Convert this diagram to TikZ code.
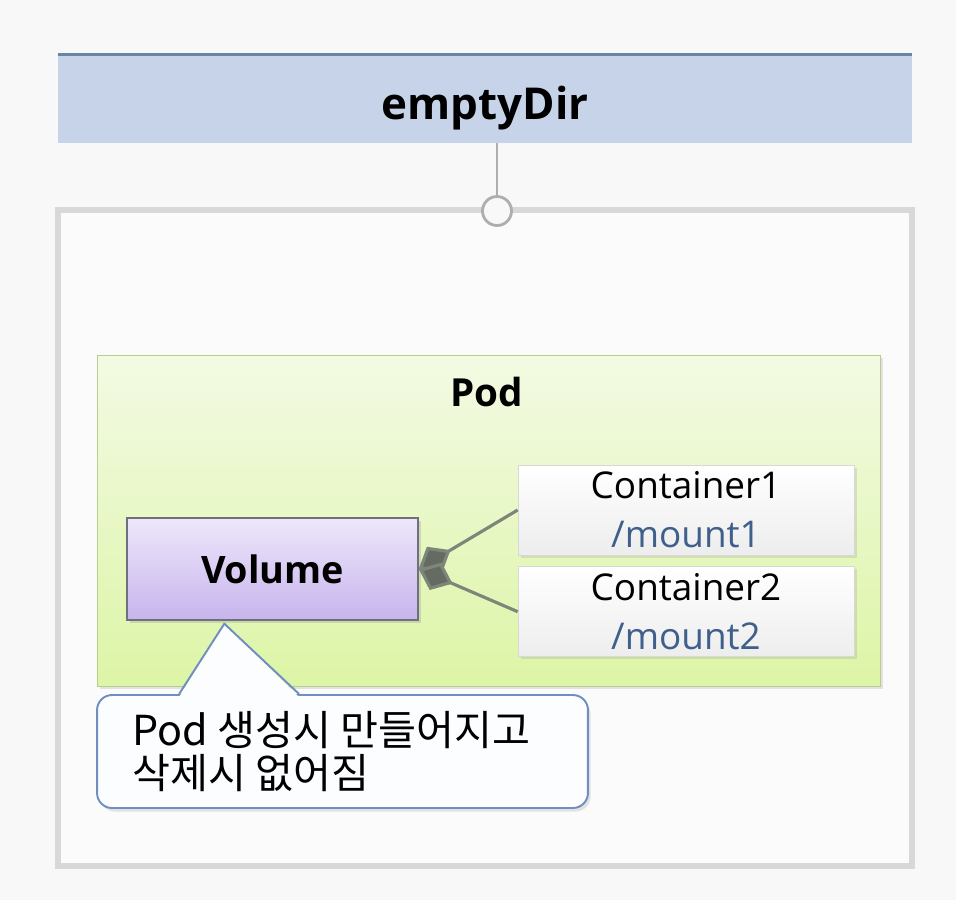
\documentclass[tikz,border=0pt]{standalone}
\usepackage{fontspec}
\setmainfont{Open Sans}
\newfontfamily\krfont{Noto Sans CJK KR}
\usepackage{tikz}
\usetikzlibrary{positioning, calc, arrows.meta, shadows}
\usepackage{xcolor}
\definecolor{pagebg}{HTML}{F8F8F8}
\definecolor{headfill}{HTML}{C6D3E9}
\definecolor{headtop}{HTML}{6A84A6}
\definecolor{framegray}{HTML}{D8D8D8}
\definecolor{jointgray}{HTML}{AEAEAE}
\definecolor{podtop}{HTML}{F3FAE4}
\definecolor{podbottom}{HTML}{DDF5A6}
\definecolor{podline}{HTML}{B9CC8E}
\definecolor{voltop}{HTML}{EEE7FB}
\definecolor{volbottom}{HTML}{C7B4EC}
\definecolor{volline}{HTML}{6F6F80}
\definecolor{mountblue}{HTML}{3F5F8C}
\definecolor{linkgray}{HTML}{7E867A}
\definecolor{noteline}{HTML}{6F8FC0}
\definecolor{notefill}{HTML}{FCFDFF}
\tikzset{headband/.style={fill=headfill, minimum width=17.08cm, minimum height=1.76cm, inner sep=0pt}}
\tikzset{headtext/.style={font=\fontsize{25pt}{30pt}\selectfont\bfseries}}
\tikzset{outerframe/.style={draw=framegray, line width=3.4pt, fill=pagebg!60!white, minimum width=17.08cm, minimum height=13.12cm}}
\tikzset{joint/.style={circle, draw=jointgray, line width=1.6pt, fill=pagebg, minimum size=0.58cm, inner sep=0pt}}
\tikzset{podbox/.style={draw=podline, top color=podtop, bottom color=podbottom, minimum width=15.66cm, minimum height=6.62cm,
    drop shadow={opacity=0.2, shadow xshift=1.5pt, shadow yshift=-1.5pt}}}
\tikzset{ctbox/.style={draw=framegray, top color=white, bottom color=black!7, minimum width=6.72cm, minimum height=1.8cm,
    align=center, inner sep=0pt, font=\fontsize{21pt}{28pt}\selectfont,
    drop shadow={opacity=0.2, shadow xshift=1.5pt, shadow yshift=-1.5pt}}}
\tikzset{volbox/.style={draw=volline, line width=0.8pt, top color=voltop, bottom color=volbottom, minimum width=5.82cm, minimum height=2.04cm,
    font=\fontsize{21.5pt}{26pt}\selectfont\bfseries,
    drop shadow={opacity=0.25, shadow xshift=1.5pt, shadow yshift=-1.5pt}}}
\tikzset{link/.style={draw=linkgray, line width=1.8pt, -{Diamond[length=21pt, width=17pt, fill=linkgray!80!black]}}}
\tikzset{notebox/.style={draw=noteline, line width=1.1pt, fill=notefill, rounded corners=0.3cm, minimum width=9.82cm, minimum height=2.26cm,
    drop shadow={opacity=0.2, shadow xshift=1.5pt, shadow yshift=-2pt}}}
\tikzset{notetext/.style={align=left, font=\krfont\fontsize{23.5pt}{24.5pt}\selectfont, inner sep=0pt}}

\begin{document}
\begin{tikzpicture}[x=0.02cm, y=-0.02cm]
  \fill[pagebg] (0,0) rectangle (956,900);
  \useasboundingbox (0,0) rectangle (956,900);

  % header
  \node[headband] (head) at (485,99) {};
  \draw[headtop, line width=1.7pt] (head.north west) -- (head.north east);
  \node[headtext] (headlbl) at ($(head.center)+(0,9)$) {emptyDir};

  % outer frame and joint
  \node[outerframe] (outer) at (485,538) {};
  \node[joint] (jt) at (497,211) {};
  \draw[jointgray, line width=0.6pt] (head.south -| jt) -- (jt);

  % pod
  \node[podbox] (pod) at (488.5,520.5) {};
  \node[font=\fontsize{22pt}{26pt}\selectfont\bfseries] (podlbl) at (487,392) {Pod};

  \node[ctbox] (c1) at (686,510) {Container1\\\textcolor{mountblue}{/mount1}};
  \node[ctbox, below=0.22cm of c1] (c2) {Container2\\\textcolor{mountblue}{/mount2}};

  \node[volbox] (vol) at (272.5,569) {Volume};
  \draw[link] (c1.west) -- (vol.east);
  \draw[link] (c2.west) -- (vol.east);

  % note
  \node[notebox] (note) at (342.5,751.5) {};
  \coordinate (tip) at ($(vol.south west)+(98,3)$);
  \coordinate (bl) at ($(note.north west)+(83,0)$);
  \coordinate (br) at ($(note.north west)+(203,0)$);
  \fill[notefill] ($(bl)+(0,3)$) -- (tip) -- ($(br)+(0,3)$) -- cycle;
  \draw[noteline, line width=1.1pt, line join=round] (bl) -- (tip) -- (br);
  \node[notetext, anchor=west] (notelbl) at ($(note.west)+(36,0)$) {Pod 생성시 만들어지고\\삭제시 없어짐};
\end{tikzpicture}
\end{document}
